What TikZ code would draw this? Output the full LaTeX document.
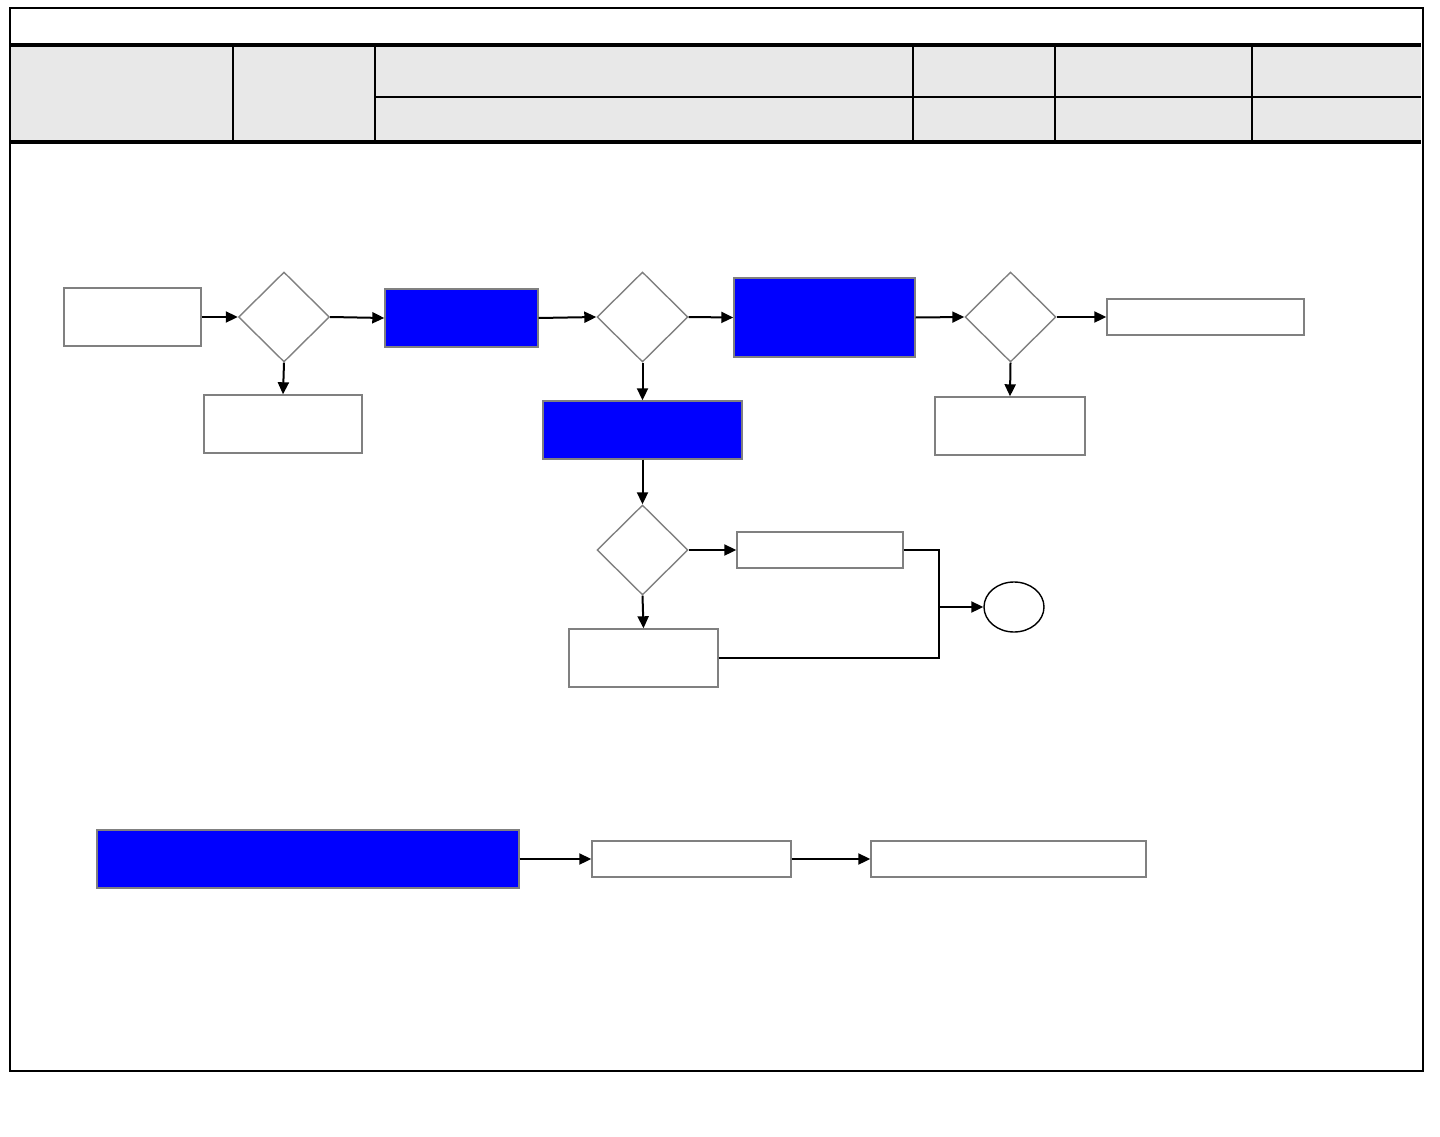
\documentclass[tikz,border=0pt]{standalone}
\usetikzlibrary{shapes.geometric,arrows.meta}
\definecolor{hdrgrey}{HTML}{E8E8E8}
\definecolor{edgegrey}{HTML}{808080}
\definecolor{procblue}{HTML}{0000FF}
\tikzset{
  plainbox/.style={rectangle,draw=edgegrey,line width=1.4pt,fill=white,inner sep=0pt},
  bluebox/.style={rectangle,draw=edgegrey,line width=1.4pt,fill=procblue,inner sep=0pt},
  decide/.style={diamond,draw=edgegrey,line width=1.4pt,fill=white,inner sep=0pt,minimum width=91pt,minimum height=90pt},
  endcirc/.style={ellipse,draw=black,line width=1.4pt,inner sep=0pt,minimum width=60pt,minimum height=50pt},
  flow/.style={-{Triangle[length=12pt,width=11pt]},line width=2pt,black},
  thinline/.style={line width=1.2pt,black},
}
\begin{document}
\begin{tikzpicture}[x=1pt,y=-1pt]
\useasboundingbox (0,0) rectangle (1440,1137);
% header
\fill[hdrgrey] (10,45) rectangle (1421,142);
\draw[line width=2pt] (10,8) rectangle (1423,1071);
\draw[line width=4pt] (10,45) -- (1421,45);
\draw[line width=3.5pt] (10,142) -- (1421,142);
\draw[line width=2.2pt] (375,97) -- (1421,97);
\foreach \x in {233,375,913,1055,1252} \draw[line width=2.2pt] (\x,45) -- (\x,142);
% nodes
\node[plainbox,minimum width=137pt,minimum height=58pt] (A) at (132.5,317) {};
\node[decide] (D1) at (284,317) {};
\node[plainbox,minimum width=158pt,minimum height=58pt] (B) at (283,424) {};
\node[bluebox,minimum width=153pt,minimum height=58pt] (C) at (461.5,318) {};
\node[decide] (D2) at (642.5,317) {};
\node[bluebox,minimum width=181pt,minimum height=79pt] (E) at (824.5,317.5) {};
\node[decide] (D3) at (1010.5,317) {};
\node[plainbox,minimum width=197pt,minimum height=36pt] (F) at (1205.5,317) {};
\node[plainbox,minimum width=150pt,minimum height=58pt] (G) at (1010,426) {};
\node[bluebox,minimum width=199pt,minimum height=58pt] (H) at (642.5,430) {};
\node[decide] (D4) at (642.5,550) {};
\node[plainbox,minimum width=166pt,minimum height=36pt] (I) at (820,550) {};
\node[plainbox,minimum width=149pt,minimum height=58pt] (J) at (643.5,658) {};
\node[endcirc] (K) at (1014,607) {};
\coordinate (mj) at (939,607);
\node[bluebox,minimum width=422pt,minimum height=58pt] (L) at (308,859) {};
\node[plainbox,minimum width=199pt,minimum height=36pt] (M) at (691.5,859) {};
\node[plainbox,minimum width=275pt,minimum height=36pt] (N) at (1008.5,859) {};
% connectors
\draw[flow] (A.east) -- (D1.west);
\draw[flow] (D1.east) -- (C.west);
\draw[flow] (D1.south) -- (B.north);
\draw[flow] (C.east) -- (D2.west);
\draw[flow] (D2.east) -- (E.west);
\draw[flow] (D2.south) -- (H.north);
\draw[flow] (E.east) -- (D3.west);
\draw[flow] (D3.east) -- (F.west);
\draw[flow] (D3.south) -- (G.north);
\draw[flow] (H.south) -- (D4.north);
\draw[flow] (D4.east) -- (I.west);
\draw[flow] (D4.south) -- (J.north);
\draw[thinline] (I.east) -| (mj);
\draw[thinline] (J.east) -| (mj);
\draw[flow] (mj) -- (K.west);
\draw[flow] (L.east) -- (M.west);
\draw[flow] (M.east) -- (N.west);
\end{tikzpicture}
\end{document}
